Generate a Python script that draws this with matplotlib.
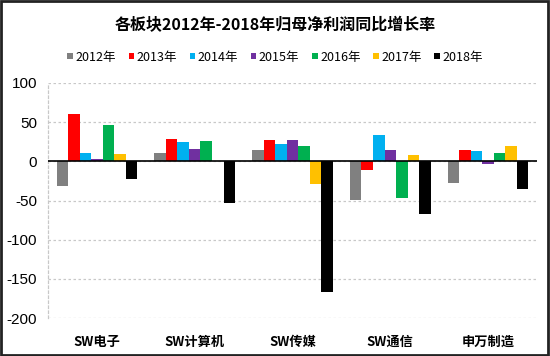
import matplotlib
matplotlib.use("Agg")
from matplotlib import pyplot as plt
from matplotlib.patches import Rectangle
import numpy as np

plt.rcParams['font.family'] = ['Noto Sans CJK SC', 'DejaVu Sans']

categories = ['SW电子', 'SW计算机', 'SW传媒', 'SW通信', '申万制造']
years = ['2012年', '2013年', '2014年', '2015年', '2016年', '2017年', '2018年']
colors = ['#808080', '#ff0000', '#00b0f0', '#7030a0', '#00b050', '#ffc000', '#000000']

# growth rate (%) per year, one value per category
v2012 = [-31, 11, 14, -49, -28]
v2013 = [60, 28, 27, -11, 15]
v2014 = [11, 25, 22, 33, 13]
v2015 = [3.5, 16, 27, 14, -3]
v2016 = [47, 26, 20, -47, 11]
v2017 = [9.5, 0.5, -29, 8, 20]
v2018 = [-23, -53, -167, -67, -35]
values = [v2012, v2013, v2014, v2015, v2016, v2017, v2018]

fig = plt.figure(figsize=(5.5, 3.56), dpi=100)
ax = fig.add_axes([48/550, 1-318/356, (537-48)/550, (318-83)/356])

x = np.arange(len(categories))
w = 0.118
for i, (yr, vals) in enumerate(zip(years, values)):
    ax.bar(x + (i-3)*w, vals, w, color=colors[i], label=yr, zorder=3)

ax.set_xlim(-0.5, 4.5)
ax.set_ylim(-200, 100)
ax.set_yticks([100, 50, 0, -50, -100, -150, -200])
ax.set_yticklabels(['100', '50', '0', '-50', '-100', '-150', '-200'],
                   family='Liberation Sans', fontsize=11)
ax.set_xticks(x)
ax.set_xticklabels(categories, fontsize=9.5, fontweight='bold')
ax.tick_params(length=0)
ax.tick_params(axis='x', pad=12)
ax.tick_params(axis='y', pad=8)
ax.axhline(0, color='black', lw=1.2, zorder=4)
ax.grid(axis='y', color='#c8c8c8', ls=(0, (2, 2)), lw=0.9, zorder=0)
for s in ['top', 'right', 'bottom']:
    ax.spines[s].set_visible(False)
ax.spines['left'].set_color('#c8c8c8')
ax.spines['left'].set_linestyle((0, (2, 2)))
ax.spines['left'].set_linewidth(0.9)

fig.text(0.5, 1-25/356, '各板块2012年-2018年归母净利润同比增长率', ha='center', va='center',
         fontsize=11.5, fontweight='bold')
fig.legend(loc='center', bbox_to_anchor=(0.5, 1-57/356), ncol=7, frameon=False,
           fontsize=9, handlelength=0.45, handleheight=0.45, handletextpad=0.2,
           columnspacing=1.0)

fig.patches.append(Rectangle((0.002, 0.004), 0.994, 0.992, transform=fig.transFigure,
                             fill=False, edgecolor='#222222', lw=2))

fig.savefig('out.png', dpi=100)
